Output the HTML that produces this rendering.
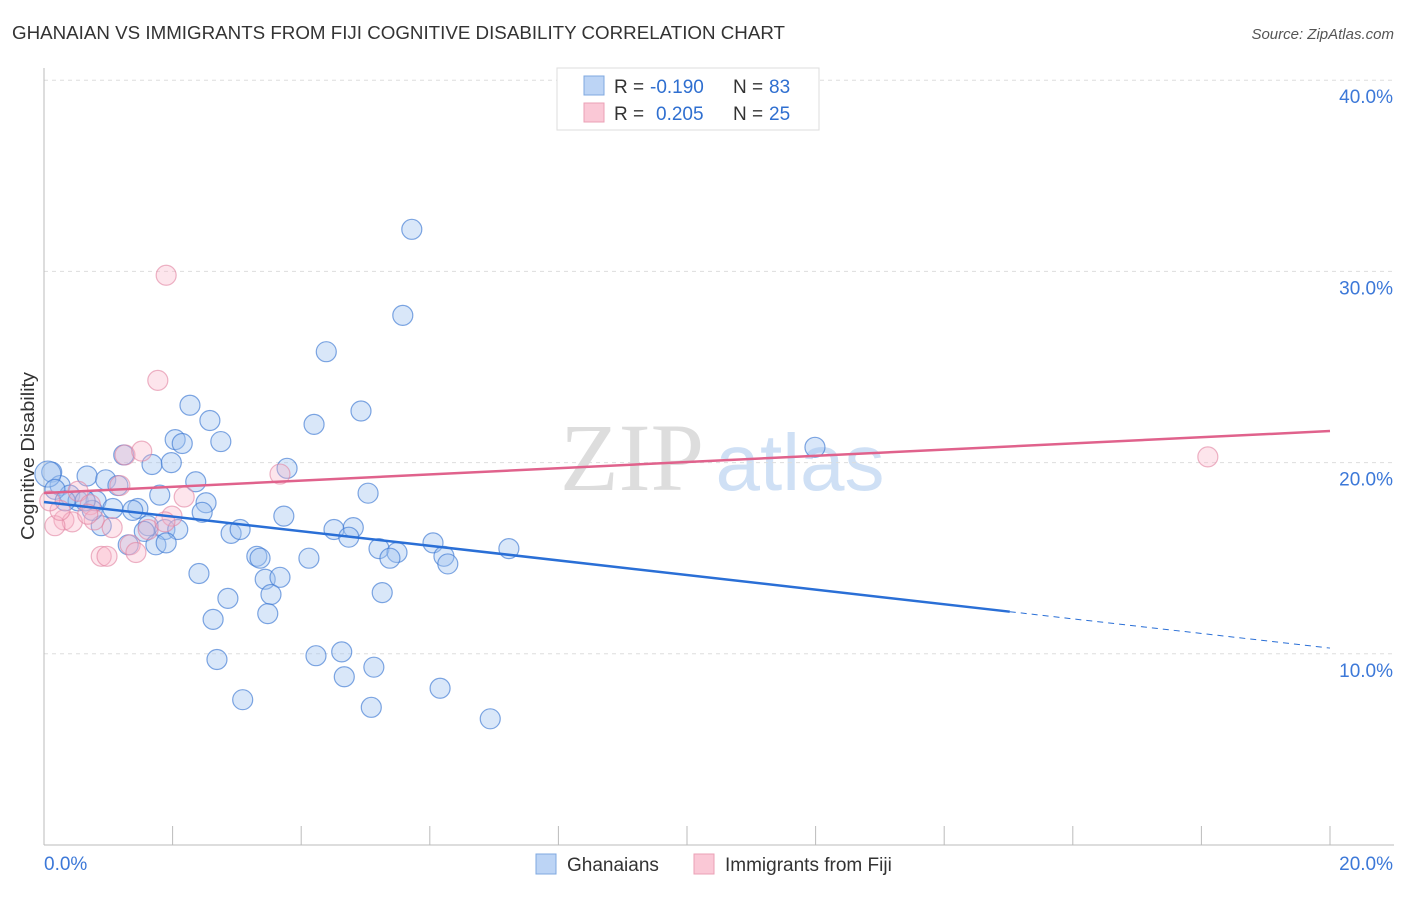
<!DOCTYPE html>
<html><head><meta charset="utf-8"><style>
body{margin:0;background:#fff;font-family:"Liberation Sans",sans-serif}
</style></head><body>
<svg id="chart" width="1406" height="892" xmlns="http://www.w3.org/2000/svg" font-family="Liberation Sans, sans-serif">
<text x="12" y="39" font-size="18" fill="#333" textLength="773" lengthAdjust="spacingAndGlyphs">GHANAIAN VS IMMIGRANTS FROM FIJI COGNITIVE DISABILITY CORRELATION CHART</text>
<text x="1394" y="39" font-size="15" fill="#555" text-anchor="end" font-style="italic">Source: ZipAtlas.com</text>
<text transform="translate(34,456) rotate(-90)" font-size="18" fill="#333" text-anchor="middle" textLength="168" lengthAdjust="spacingAndGlyphs">Cognitive Disability</text>
<g><text x="632" y="490" font-size="96" fill="#ddd" text-anchor="middle" font-family="Liberation Serif, serif">ZIP</text><text x="800" y="490" font-size="80" fill="#cfe0f5" text-anchor="middle">atlas</text></g>
<g id="grid"></g><g id="axes"></g><g id="pts"></g><g id="trend"></g>
<g>
<rect x="557" y="68" width="262" height="62" fill="#fff" stroke="#ddd"/>
<rect x="584" y="76" width="20" height="19" fill="#bcd4f5" stroke="#7fa8e0"/>
<rect x="584" y="103" width="20" height="19" fill="#fac8d6" stroke="#eba0b6"/>
<text x="614" y="93" font-size="19" fill="#333">R =</text>
<text x="650" y="93" font-size="19" fill="#2f6fd0">-0.190</text>
<text x="733" y="93" font-size="19" fill="#333">N =</text>
<text x="769" y="93" font-size="19" fill="#2f6fd0">83</text>
<text x="614" y="120" font-size="19" fill="#333">R =</text>
<text x="656" y="120" font-size="19" fill="#2f6fd0">0.205</text>
<text x="733" y="120" font-size="19" fill="#333">N =</text>
<text x="769" y="120" font-size="19" fill="#2f6fd0">25</text>
</g>
<g>
<rect x="536" y="854" width="20" height="20" fill="#bcd4f5" stroke="#7fa8e0"/>
<text x="567" y="871" font-size="19" fill="#333">Ghanaians</text>
<rect x="694" y="854" width="20" height="20" fill="#fac8d6" stroke="#eba0b6"/>
<text x="725" y="871" font-size="19" fill="#333">Immigrants from Fiji</text>
</g>
</svg>
<script>
const blueX=[5.72,5.58,4.39,2.27,2.58,4.93,4.20,2.04,2.15,2.75,1.24,1.68,1.98,11.99,3.78,2.36,0.67,0.96,1.15,1.80,5.04,0.12,0.25,0.40,0.53,0.81,1.07,1.46,2.52,2.46,3.73,1.38,1.62,1.88,2.08,2.91,3.05,4.51,4.81,4.74,0.89,1.56,1.74,1.31,1.90,5.21,5.49,6.05,6.22,6.28,7.23,3.31,3.36,4.12,5.38,2.41,3.44,3.67,2.86,3.53,5.26,2.63,3.48,2.69,4.23,4.63,5.13,4.67,6.16,3.09,5.09,6.94,0.06,0.17,0.33,0.75,0.64];
const blueY=[32.2,27.7,25.8,23.0,22.2,22.7,22.0,21.2,21.0,21.1,20.4,19.9,20.0,20.8,19.7,19.0,19.3,19.1,18.8,18.3,18.4,19.5,18.8,18.3,18.0,18.0,17.6,17.6,17.9,17.4,17.2,17.5,16.7,16.5,16.5,16.3,16.5,16.5,16.6,16.1,16.7,16.4,15.7,15.7,15.8,15.5,15.3,15.8,15.1,14.7,15.5,15.1,15.0,15.0,15.0,14.2,13.9,14.0,12.9,13.1,13.2,11.8,12.1,9.7,9.9,10.1,9.3,8.8,8.2,7.6,7.2,6.6,19.4,18.6,18.0,17.5,18.0];
const pinkX=[1.90,1.77,1.26,1.52,3.67,1.18,0.53,2.18,0.72,0.31,0.44,0.17,0.78,1.06,1.62,1.99,1.34,1.43,0.89,0.98,18.10,0.25,0.09,1.88,0.68];
const pinkY=[29.8,24.3,20.4,20.6,19.4,18.8,18.5,18.2,17.8,17.0,16.9,16.7,17.0,16.6,16.5,17.2,15.7,15.3,15.1,15.1,20.3,17.5,18.0,16.9,17.3];
const yTicks=[10,20,30,40];
const yTickLabels=["10.0%","20.0%","30.0%","40.0%"];
const blueTrend=[17.94,10.30], blueSolidEnd=15.02;
const pinkTrend=[18.41,21.65];
const NS="http://www.w3.org/2000/svg";
const sx=v=>44+v/20*1286, sy=v=>845-v*19.12;
function mk(tag,attrs,parent){const e=document.createElementNS(NS,tag);for(const k in attrs)e.setAttribute(k,attrs[k]);document.getElementById(parent).appendChild(e);return e;}
yTicks.forEach((t,i)=>{
 const g=mk('line',{x1:44,x2:1394,y1:sy(t),y2:sy(t),stroke:'#ddd','stroke-dasharray':'4,4'},'grid');
 
 
 const l=mk('text',{x:1393,y:sy(t)+23,'font-size':19,fill:'#3c78d8','text-anchor':'end'},'grid');
 l.textContent=yTickLabels[i];
 
 
});
const ax=mk('line',{x1:44,x2:44,y1:68,y2:845,stroke:'#bbb'},'axes');


const bx=mk('line',{x1:44,x2:1394,y1:845,y2:845,stroke:'#bbb'},'axes');


for(let i=1;i<=10;i++){const t=mk('line',{x1:sx(i*2),x2:sx(i*2),y1:826,y2:845,stroke:'#bbb'},'axes');
 
 }
[["0.0%",44,'start'],["20.0%",1393,'end']].forEach(a=>{const t=mk('text',{x:a[1],y:870,'font-size':19,fill:'#3c78d8','text-anchor':a[2]},'axes');t.textContent=a[0];
 
 });
blueX.forEach((x,i)=>{const c=mk('circle',{cx:sx(x),cy:sy(blueY[i]),r:i==72?13:10,fill:'rgba(160,196,240,0.4)',stroke:'rgba(60,120,210,0.65)','stroke-width':1.2},'pts');
 
 });
pinkX.forEach((x,i)=>{const c=mk('circle',{cx:sx(x),cy:sy(pinkY[i]),r:10,fill:'rgba(248,180,200,0.35)',stroke:'rgba(225,130,160,0.6)','stroke-width':1.2},'pts');
 
 });
const by=x=>blueTrend[0]+(blueTrend[1]-blueTrend[0])*x/20;
const l1=mk('line',{x1:sx(0),y1:sy(by(0)),x2:sx(blueSolidEnd),y2:sy(by(blueSolidEnd)),stroke:'#2a6fd6','stroke-width':2.5},'trend');


const l2=mk('line',{x1:sx(blueSolidEnd),y1:sy(by(blueSolidEnd)),x2:sx(20),y2:sy(by(20)),stroke:'#2a6fd6','stroke-width':1,'stroke-dasharray':'6,5'},'trend');


const l3=mk('line',{x1:sx(0),y1:sy(pinkTrend[0]),x2:sx(20),y2:sy(pinkTrend[1]),stroke:'#e0628c','stroke-width':2.5},'trend');


</script>
</body></html>
